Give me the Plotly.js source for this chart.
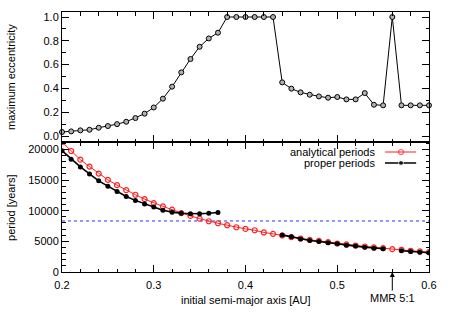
<!DOCTYPE html>
<html>
<head>
<meta charset="utf-8">
<script src="https://cdn.plot.ly/plotly-3.0.1.min.js"></script>
<style>html,body{margin:0;padding:0;background:#fff;}#chart{width:450px;height:315px;}</style>
</head>
<body>
<div id="chart"></div>
<script>
// ---- data ----
const semiMajorAxis = [0.20,0.21,0.22,0.23,0.24,0.25,0.26,0.27,0.28,0.29,
  0.30,0.31,0.32,0.33,0.34,0.35,0.36,0.37,0.38,0.39,
  0.40,0.41,0.42,0.43,0.44,0.45,0.46,0.47,0.48,0.49,
  0.50,0.51,0.52,0.53,0.54,0.55,0.56,0.57,0.58,0.59,0.60];

const maxEccentricity = [0.034,0.039,0.048,0.053,0.070,0.084,0.100,0.120,0.151,0.188,
  0.240,0.314,0.415,0.535,0.647,0.750,0.820,0.868,1.0,1.0,
  1.0,1.0,1.0,1.0,0.451,0.398,0.367,0.347,0.333,0.322,
  0.328,0.308,0.308,0.361,0.263,0.258,1.0,0.258,0.258,0.258,0.258];

const analyticalPeriods = [21200,19730,18320,17190,16050,15030,14160,13350,12600,11890,
  11240,10700,10160,9600,9150,8700,8280,7950,7630,7300,
  7030,6810,6450,6220,5950,5680,5460,5240,5080,4870,
  4650,4490,4320,4160,4000,3890,3730,3620,3460,3350,3240];

const properPeriods = [19780,18380,17130,16000,14870,14000,13130,12320,11680,11080,
  10600,10080,9760,9590,9510,9510,9570,9700,null,null,
  null,null,null,null,6050,5730,5400,5140,4970,4760,
  4600,4380,4220,4050,3890,3780,null,3460,3350,3240,3140];

const referencePeriod = 8320;     // blue dotted level [years]
const mmrLocation = 0.56;         // MMR 5:1
const mmrLabel = 'MMR 5:1';
const seriesNames = ['analytical periods', 'proper periods'];
const eccTicks = [0.0,0.2,0.4,0.6,0.8,1.0];
const periodTicks = [0,5000,10000,15000,20000];

// ---- styles ----
const FONT = {family: '"Liberation Sans", Arial, sans-serif', size: 11, color: '#000'};
const RED = '#ff2020';

const traces = [
  {x: semiMajorAxis, y: maxEccentricity, xaxis: 'x2', yaxis: 'y2', type: 'scatter', mode: 'lines+markers',
   line: {color: '#000', width: 1}, marker: {symbol: 'circle', size: 5, color: '#b0b0b0', line: {color: '#000', width: 1}},
   showlegend: false, cliponaxis: false},
  {x: semiMajorAxis, y: analyticalPeriods, xaxis: 'x', yaxis: 'y', type: 'scatter', mode: 'lines+markers',
   line: {color: RED, width: 1}, marker: {symbol: 'circle-open', size: 5, color: RED, line: {width: 1.2}},
   name: seriesNames[0], showlegend: false},
  {x: semiMajorAxis, y: properPeriods, xaxis: 'x', yaxis: 'y', type: 'scatter', mode: 'lines+markers',
   line: {color: '#000', width: 1.6}, marker: {symbol: 'circle', size: 5, color: '#000'},
   name: seriesNames[1], showlegend: false, connectgaps: false},
  // legend keys (drawn on a hidden overlay axis)
  {x: [0.88, 0.9237, 0.965], y: [0.923, 0.923, 0.923], xaxis: 'x3', yaxis: 'y3', type: 'scatter',
   mode: 'lines+markers', line: {color: RED, width: 1},
   marker: {symbol: 'circle-open', size: [0, 5, 0], color: RED, line: {width: 1.2}}, showlegend: false, hoverinfo: 'skip'},
  {x: [0.88, 0.9237, 0.965], y: [0.839, 0.839, 0.839], xaxis: 'x3', yaxis: 'y3', type: 'scatter',
   mode: 'lines+markers', line: {color: '#000', width: 1.6},
   marker: {symbol: 'circle', size: [0, 5, 0], color: '#000'}, showlegend: false, hoverinfo: 'skip'}
];

const axBase = {
  showline: true, linecolor: '#000', linewidth: 1, mirror: 'ticks',
  ticks: 'inside', ticklen: 7, tickwidth: 1, tickcolor: '#000',
  showgrid: false, zeroline: false, tickfont: FONT
};

const layout = {
  width: 450, height: 315,
  margin: {l: 62, r: 21, t: 12, b: 43},
  paper_bgcolor: '#fff', plot_bgcolor: 'rgba(0,0,0,0)',
  font: FONT,
  showlegend: false,
  xaxis: Object.assign({}, axBase, {domain: [0, 1], anchor: 'y', range: [0.2, 0.6], dtick: 0.1, tick0: 0.2,
    tickformat: '.1f', ticklabelstandoff: 3,
    minor: {dtick: 0.02, ticklen: 3.5, ticks: 'inside', tickcolor: '#000'}}),
  yaxis: Object.assign({}, axBase, {domain: [0, 0.5], anchor: 'x', range: [0, 21200],
    tickvals: periodTicks, tickformat: 'd', minor: {dtick: 1000, ticklen: 3.5, ticks: 'inside', tickcolor: '#000'}}),
  xaxis2: Object.assign({}, axBase, {domain: [0, 1], anchor: 'y2', matches: 'x', range: [0.2, 0.6], dtick: 0.1, tick0: 0.2,
    showticklabels: false, minor: {dtick: 0.02, ticklen: 3.5, ticks: 'inside', tickcolor: '#000'}}),
  yaxis2: Object.assign({}, axBase, {domain: [0.5, 1], anchor: 'x2', range: [-0.05, 1.042],
    tickvals: eccTicks, tickformat: '.1f', minor: {dtick: 0.1, ticklen: 3.5, ticks: 'inside', tickcolor: '#000'}}),
  xaxis3: {overlaying: 'x', anchor: 'y3', range: [0, 1], visible: false, fixedrange: true},
  yaxis3: {overlaying: 'y', anchor: 'x3', range: [0, 1], visible: false, fixedrange: true},
  shapes: [
    {type: 'line', xref: 'x domain', yref: 'y', x0: 0, x1: 1, y0: referencePeriod, y1: referencePeriod,
     line: {color: '#3030ff', width: 1, dash: 'dot'}, layer: 'below'}
  ],
  annotations: [
    {text: 'maximum eccentricity', xref: 'paper', yref: 'paper', x: -0.139, y: 0.75, textangle: -90,
     showarrow: false, xanchor: 'center', yanchor: 'middle', font: FONT},
    {text: 'period [years]', xref: 'paper', yref: 'paper', x: -0.139, y: 0.25, textangle: -90,
     showarrow: false, xanchor: 'center', yanchor: 'middle', font: FONT},
    {text: 'initial semi-major axis [AU]', xref: 'paper', yref: 'paper', x: 0.501, y: -0.106,
     showarrow: false, xanchor: 'center', yanchor: 'middle', font: FONT},
    {text: mmrLabel, xref: 'x', yref: 'y', x: mmrLocation, y: 0, ax: 0, ay: 26,
     showarrow: true, arrowhead: 2, arrowsize: 1, arrowwidth: 1, arrowcolor: '#000', font: FONT, standoff: 0},
    {text: seriesNames[0], xref: 'paper', yref: 'paper', x: 0.858, y: 0.4617, showarrow: false,
     xanchor: 'right', yanchor: 'middle', font: FONT},
    {text: seriesNames[1], xref: 'paper', yref: 'paper', x: 0.858, y: 0.4195, showarrow: false,
     xanchor: 'right', yanchor: 'middle', font: FONT}
  ]
};

Plotly.newPlot('chart', traces, layout, {staticPlot: true, displayModeBar: false});
</script>
</body>
</html>
